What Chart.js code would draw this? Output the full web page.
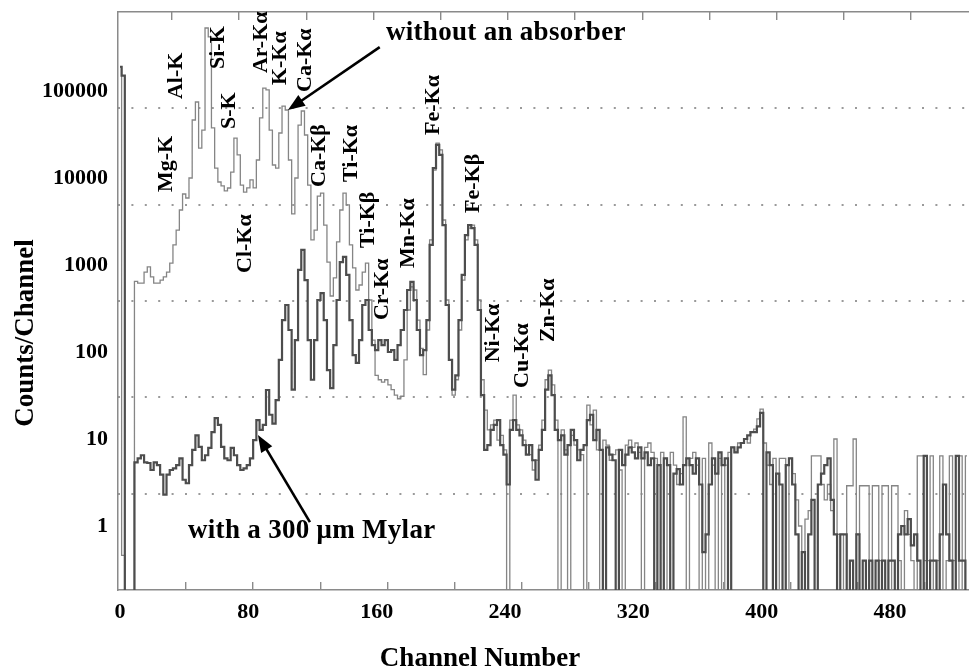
<!DOCTYPE html>
<html>
<head>
<meta charset="utf-8">
<script src="https://cdn.jsdelivr.net/npm/chart.js@4.4.1/dist/chart.umd.min.js"></script>
<style>
html,body{margin:0;padding:0;background:#fff;overflow:hidden;}
#wrap{width:969px;height:669px;position:relative;}
</style>
</head>
<body>
<div id="wrap"><canvas id="c" width="969" height="669"></canvas></div>
<script>
// ---- data (counts per channel, sampled every 2 channels from channel 0) ----
const CHANNEL_STEP = 2;
// values of 0.1 stand for empty channels (0 counts, drawn at the bottom of the log axis)
const countsWithoutAbsorber = [
  190000, 0.46, 0.1, 0.1, 0.1, 650, 620, 620, 830, 950,
  730, 620, 620, 670, 730, 830, 1050, 1700, 2520, 4290,
  6550, 5890, 10000, 46400, 74800, 22100, 35600, 530000, 420000, 37600,
  13000, 9000, 8100, 7100, 7680, 11700, 28800, 18400, 8300, 6900,
  7700, 9500, 7700, 16100, 49000, 108000, 103000, 35600, 14100, 13000,
  32900, 67200, 60500, 16100, 3860, 10000, 40600, 58900, 31200, 8300,
  1940, 2520, 6200, 6700, 2880, 1080, 440, 710, 1840, 4290,
  6700, 4900, 1700, 925, 516, 589, 830, 1050, 396, 137,
  54, 48, 45, 48, 42, 37, 32, 29, 31, 81,
  304, 560, 516, 233, 110, 55, 179, 1940, 12350, 25200,
  21000, 3290, 396, 81, 32, 48, 179, 670, 1940, 2660,
  2880, 1940, 396, 48, 21.5, 12.7, 14.5, 16.5, 9.7, 11,
  7.5, 0.1, 16.5, 32, 14.5, 12.7, 9.7, 8.5, 6.6, 4.4,
  5.7, 8.5, 16.5, 48, 62, 42, 16.5, 0.1, 12.7, 7.5,
  0.1, 11, 8.5, 7.5, 6.6, 0.1, 24.5, 14.5, 21.5, 7.5,
  0.1, 9.7, 8.5, 5.7, 6.6, 7.5, 4.4, 0.1, 8.5, 9.7,
  8, 9, 7, 0.1, 8, 9, 7, 6, 0.1, 7,
  6, 0.1, 7, 5, 3, 4, 18, 0.1, 6, 7,
  5, 0.1, 6, 0.1, 9, 5, 0.1, 6, 0.1, 5,
  7, 8, 7, 9, 9, 10, 9, 12, 13, 17,
  22, 9, 5, 3, 6, 0.1, 6, 6, 0.1, 6,
  4, 2, 1, 0.1, 1.2, 1.5, 6.4, 6.4, 6.4, 3,
  2, 3, 1.5, 10, 0.8, 0.8, 0.1, 2.9, 2.9, 10,
  0.8, 2.9, 2.9, 2.9, 0.4, 2.9, 2.9, 0.4, 2.9, 2.9,
  0.1, 2.9, 2.9, 0.4, 0.1, 1.5, 0.8, 0.4, 0.1, 6.4,
  6.4, 0.4, 0.4, 6.4, 0.1, 0.4, 6.4, 0.1, 0.4, 6.4,
  0.4, 0.1, 6.4, 0.1, 6.4
];
const countsWithMylar = [
  190000, 150000, 0.1, 0.1, 0.1, 5.4, 6, 6.5, 5.4, 5.3,
  4.4, 5.4, 5, 3.9, 2.3, 3.9, 4.4, 4.6, 5, 6,
  3.4, 3.1, 5, 7.5, 11, 8.1, 5.7, 6.5, 7.9, 12,
  17.4, 14.5, 8.1, 6, 5.7, 7.9, 6.5, 5, 4.4, 4.6,
  5, 6, 9.7, 16.5, 12.7, 14.5, 36.6, 19, 15, 28,
  81, 233, 347, 179, 37, 137, 877, 1490, 670, 137,
  48, 137, 396, 476, 233, 62, 38.5, 120, 396, 1080,
  1240, 770, 233, 92, 75, 137, 347, 396, 179, 120,
  105, 137, 120, 137, 100, 105, 81, 120, 179, 304,
  516, 640, 396, 179, 92, 105, 233, 1700, 13000, 24000,
  18400, 2880, 347, 81, 37, 54, 233, 770, 2200, 2880,
  2660, 1700, 304, 32, 7.5, 8.5, 12.7, 14.5, 16.5, 8.5,
  6.6, 3, 12.7, 16.5, 12.7, 11, 8.5, 6.6, 8.5, 5.7,
  3.4, 7.5, 12.7, 37, 54, 32, 12.7, 9.7, 11, 6.6,
  8.5, 12.7, 9.7, 5.7, 7.5, 8.5, 16.5, 19, 9.7, 12.7,
  7.5, 0.1, 8, 6.6, 5.7, 0.1, 7.5, 5, 6.6, 8,
  7, 6, 8, 6, 7, 5, 6, 0.1, 5, 0.1,
  6, 5, 0.1, 4, 4.5, 3, 5, 6, 5, 4,
  6, 3, 0.5, 0.8, 3, 6, 4, 7, 5, 6,
  0.1, 8, 7, 8, 9, 10, 11, 12, 12, 14,
  20, 0.1, 7, 5, 0.1, 4, 3, 0.1, 5, 6,
  3, 0.8, 0.1, 0.5, 0.1, 0.8, 2, 0.1, 3, 4,
  5, 6, 2, 0.8, 0.1, 0.8, 0.8, 0.1, 0.4, 0.1,
  0.8, 0.1, 0.4, 0.1, 0.4, 0.1, 0.4, 0.1, 0.4, 0.1,
  0.4, 0.4, 0.1, 0.8, 1, 0.8, 1.2, 0.6, 0.8, 0.4,
  0.1, 6.4, 0.1, 0.4, 0.4, 0.1, 0.8, 3, 0.8, 0.4,
  0.1, 6.4, 0.4, 0.4, 0.1
];

// ---- axes ----
const xTickValues = [0, 80, 160, 240, 320, 400, 480];
const yTickValues = [1, 10, 100, 1000, 10000, 100000];
const xMinorTickValues = [40, 80, 120, 160, 200, 240, 280, 320, 360, 400, 440, 480];
const gridLevels = [1, 2, 3, 4, 5];

// ---- annotations ----
const peakLabels = ['Mg-K','Al-K','Si-K','S-K','Ar-Kα','K-Kα','Ca-Kα','Cl-Kα','Ca-Kβ','Ti-Kα','Ti-Kβ','Cr-Kα','Mn-Kα','Fe-Kα','Fe-Kβ','Ni-Kα','Cu-Kα','Zn-Kα'];
const peakLabelChannels = [28.7, 34.9, 61.1, 67.9, 87.9, 99.7, 115.3, 77.9, 124.0, 144.0, 154.6, 163.3, 179.5, 195.1, 220.0, 232.5, 250.6, 266.8];
const peakLabelCounts = [6900, 80900, 179000, 36600, 161000, 117000, 97500, 809, 7880, 9000, 1570, 233, 924, 31200, 3960, 76, 38.6, 130];
const notes = [
  {text: 'without an absorber', channel: 165.8, counts: 386000, fromCh: 161.9, fromCounts: 320000, toCh: 104.7, toCounts: 60500},
  {text: 'with a 300 μm Mylar', channel: 42.4, counts: 0.728, fromCh: 118.4, fromCounts: 1.11, toCh: 86.0, toCounts: 11.1}
];
const xTitle = 'Channel Number';
const yTitle = 'Counts/Channel';

const FONT = '"Liberation Serif", "Times New Roman", serif';

const channels = countsWithoutAbsorber.map((_, i) => i * CHANNEL_STEP);
const toPoints = arr => arr.map((v, i) => ({x: channels[i], y: v}));

const annotPlugin = {
  id: 'annot',
  afterDatasetsDraw(chart) {
    const {ctx, scales: {x, y}} = chart;
    ctx.save();
    ctx.fillStyle = '#000';
    ctx.font = 'bold 22px ' + FONT;
    ctx.textAlign = 'left';
    ctx.textBaseline = 'middle';
    peakLabels.forEach((t, i) => {
      const px = x.getPixelForValue(peakLabelChannels[i]);
      const py = y.getPixelForValue(peakLabelCounts[i]);
      ctx.save();
      ctx.translate(px, py);
      ctx.rotate(-Math.PI / 2);
      ctx.fillText(t, 0, 0);
      ctx.restore();
    });
    ctx.font = 'bold 27px ' + FONT;
    ctx.textBaseline = 'alphabetic';
    try { ctx.letterSpacing = '0.3px'; } catch (e) {}
    notes.forEach(n => {
      ctx.fillText(n.text, x.getPixelForValue(n.channel), y.getPixelForValue(n.counts));
      const x1 = x.getPixelForValue(n.fromCh), y1 = y.getPixelForValue(n.fromCounts);
      const x2 = x.getPixelForValue(n.toCh), y2 = y.getPixelForValue(n.toCounts);
      const a = Math.atan2(y2 - y1, x2 - x1);
      const L = 17, W = 6.5;
      ctx.strokeStyle = '#000';
      ctx.lineWidth = 2.6;
      ctx.beginPath();
      ctx.moveTo(x1, y1);
      ctx.lineTo(x2 - Math.cos(a) * (L - 2), y2 - Math.sin(a) * (L - 2));
      ctx.stroke();
      ctx.beginPath();
      ctx.moveTo(x2, y2);
      ctx.lineTo(x2 - Math.cos(a) * L + Math.sin(a) * W, y2 - Math.sin(a) * L - Math.cos(a) * W);
      ctx.lineTo(x2 - Math.cos(a) * L - Math.sin(a) * W, y2 - Math.sin(a) * L + Math.cos(a) * W);
      ctx.closePath();
      ctx.fill();
    });
    ctx.restore();
  },
  afterDraw(chart) {
    const ctx = chart.ctx;
    ctx.save();
    ctx.fillStyle = '#000';
    ctx.font = 'bold 27px ' + FONT;
    ctx.textAlign = 'center';
    ctx.textBaseline = 'alphabetic';
    ctx.fillText(xTitle, 480, 666);
    ctx.translate(33, 333);
    ctx.rotate(-Math.PI / 2);
    ctx.fillText(yTitle, 0, 0);
    ctx.restore();
  }
};

new Chart(document.getElementById('c'), {
  type: 'line',
  data: {
    datasets: [
      {
        label: 'with a 300 μm Mylar',
        data: toPoints(countsWithMylar),
        borderColor: '#4d4d4d',
        borderWidth: 2.2,
        stepped: 'middle',
        pointRadius: 0,
        fill: false
      },
      {
        label: 'without an absorber',
        data: toPoints(countsWithoutAbsorber),
        borderColor: '#858585',
        borderWidth: 1.3,
        stepped: 'middle',
        pointRadius: 0,
        fill: false
      }
    ]
  },
  plugins: [annotPlugin],
  options: {
    responsive: false,
    animation: false,
    devicePixelRatio: 1,
    layout: {padding: {top: 12, left: 0, right: 0, bottom: 0}},
    plugins: {legend: {display: false}, tooltip: {enabled: false}, title: {display: false}},
    scales: {
      x: {
        type: 'linear', position: 'bottom', bounds: 'data',
        min: -1.25, max: 529.25,
        afterBuildTicks: s => { s.ticks = xTickValues.map(v => ({value: v})); },
        afterFit: s => { s.height = 79; s.paddingLeft = 0; s.paddingRight = 0; },
        ticks: {
          autoSkip: false, maxRotation: 0, minRotation: 0, padding: 9, color: '#000',
          font: {family: FONT, size: 22, weight: 'bold'},
          callback: v => String(v)
        },
        grid: {display: false, drawTicks: false},
        border: {display: true, color: '#8a8a8a', width: 1.5}
      },
      xtb: {
        type: 'linear', position: 'bottom', bounds: 'data',
        min: -0.48, max: 506.3,
        afterBuildTicks: s => { s.ticks = xMinorTickValues.map(v => ({value: v})); },
        afterFit: s => { s.height = 0; },
        ticks: {display: false},
        grid: {display: true, drawTicks: false, color: '#8a8a8a', lineWidth: 1.4},
        border: {display: false, dash: [0, 570, 8, 2000]}
      },
      xtt: {
        type: 'linear', position: 'top', bounds: 'data',
        min: 7.84, max: 514.6,
        afterBuildTicks: s => { s.ticks = xMinorTickValues.map(v => ({value: v})); },
        afterFit: s => { s.height = 0; },
        ticks: {display: false},
        grid: {display: true, drawTicks: false, color: '#8a8a8a', lineWidth: 1.4},
        border: {display: false, dash: [8, 2000]}
      },
      xFrame: {
        type: 'linear', position: 'top', bounds: 'data',
        min: 0, max: 1,
        afterFit: s => { s.height = 0; },
        ticks: {display: false},
        grid: {display: false, drawTicks: false},
        border: {display: true, color: '#8a8a8a', width: 1.5}
      },
      y: {
        type: 'logarithmic', position: 'left', bounds: 'data',
        min: 0.18378, max: 809400,
        afterBuildTicks: s => { s.ticks = yTickValues.map(v => ({value: v})); },
        afterFit: s => { s.width = 118; s.paddingTop = 0; s.paddingBottom = 0; },
        ticks: {
          padding: 10, color: '#000',
          font: {family: FONT, size: 22, weight: 'bold'},
          callback: v => String(v)
        },
        grid: {display: false, drawTicks: false},
        border: {display: true, color: '#8a8a8a', width: 1.5}
      },
      yg: {
        type: 'linear', position: 'right', bounds: 'data',
        min: 0, max: 6,
        afterBuildTicks: s => { s.ticks = gridLevels.map(v => ({value: v})); },
        afterFit: s => { s.width = 0; },
        ticks: {display: false},
        grid: {display: true, drawTicks: false, color: '#9a9a9a', lineWidth: 2},
        border: {display: false, dash: [2, 11.4]}
      }
    }
  }
});
</script>
</body>
</html>
